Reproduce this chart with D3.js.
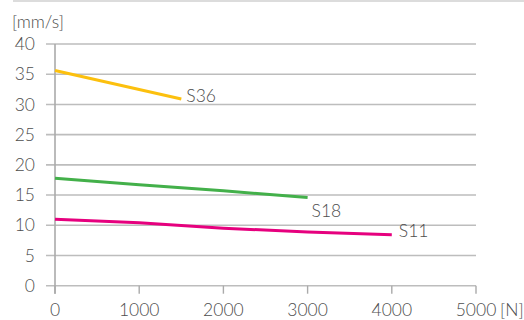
<!DOCTYPE html>
<html><head><meta charset="utf-8">
<script src="https://cdn.jsdelivr.net/npm/d3@7"></script>
<style>body{margin:0;background:#fff}svg{display:block}text{font-family:Lato,"Open Sans",sans-serif;fill:#4d4d4d;font-weight:300}</style>
</head><body><svg id="c" width="524" height="320"></svg>
<script>
const xTicks = [0,1000,2000,3000,4000,5000];
const yTicks = [0,5,10,15,20,25,30,35,40];
const s36 = [[0,35.6],[1500,30.9]];
const s18 = [[0,17.8],[1000,16.7],[2000,15.7],[3000,14.6]];
const s11 = [[0,11.0],[1000,10.4],[2000,9.5],[3000,8.9],[4000,8.45]];
const series = [
  {name:"S36", data:s36, color:"#fcc00e", dx:5, dy:-3},
  {name:"S18", data:s18, color:"#43b04a", dx:4, dy:13},
  {name:"S11", data:s11, color:"#e6007e", dx:7, dy:-4}
];
const svg = d3.select("#c");
const x = d3.scaleLinear().domain([0,5000]).range([55,476]);
const y = d3.scaleLinear().domain([0,40]).range([285.7,44]);

svg.append("line").attr("x1",13).attr("x2",524).attr("y1",1).attr("y2",1).attr("stroke","#d0d0d0").attr("stroke-width",1.5);

svg.append("g").selectAll("line").data(yTicks).join("line")
  .attr("x1",46).attr("x2",476).attr("y1",d=>y(d)).attr("y2",d=>y(d))
  .attr("stroke","#bdbdbd").attr("stroke-width",1.6);
svg.append("g").selectAll("line").data(xTicks).join("line")
  .attr("x1",d=>x(d)).attr("x2",d=>x(d)).attr("y1",y(0)).attr("y2",y(0)+8)
  .attr("stroke","#aaa").attr("stroke-width",1.4);
svg.append("line").attr("x1",x(0)).attr("x2",x(0)).attr("y1",y(40)).attr("y2",y(0)+8).attr("stroke","#aaa").attr("stroke-width",1.6);

svg.append("g").selectAll("text").data(yTicks).join("text")
  .attr("x",35).attr("y",d=>y(d)).attr("dy","0.35em").attr("text-anchor","end")
  .attr("font-size",17.5).text(d=>d);
svg.append("g").selectAll("text").data(xTicks).join("text")
  .attr("x",d=>x(d)).attr("y",310).attr("dy","0.35em").attr("text-anchor","middle")
  .attr("font-size",17.5).text(d=>d);
svg.append("text").attr("x",500).attr("y",310).attr("dy","0.35em").attr("font-size",17.5).text("[N]");
svg.append("text").attr("x",12).attr("y",22).attr("dy","0.35em").attr("font-size",17.5).text("[mm/s]");

const line = d3.line().x(d=>x(d[0])).y(d=>y(d[1]));
series.forEach(s=>{
  svg.append("path").attr("d",line(s.data)).attr("fill","none").attr("stroke",s.color).attr("stroke-width",3);
  const last = s.data[s.data.length-1];
  svg.append("text").attr("x",x(last[0])+s.dx).attr("y",y(last[1])+s.dy).attr("dy","0.35em")
    .attr("font-size",17.5).text(s.name);
});
</script></body></html>
